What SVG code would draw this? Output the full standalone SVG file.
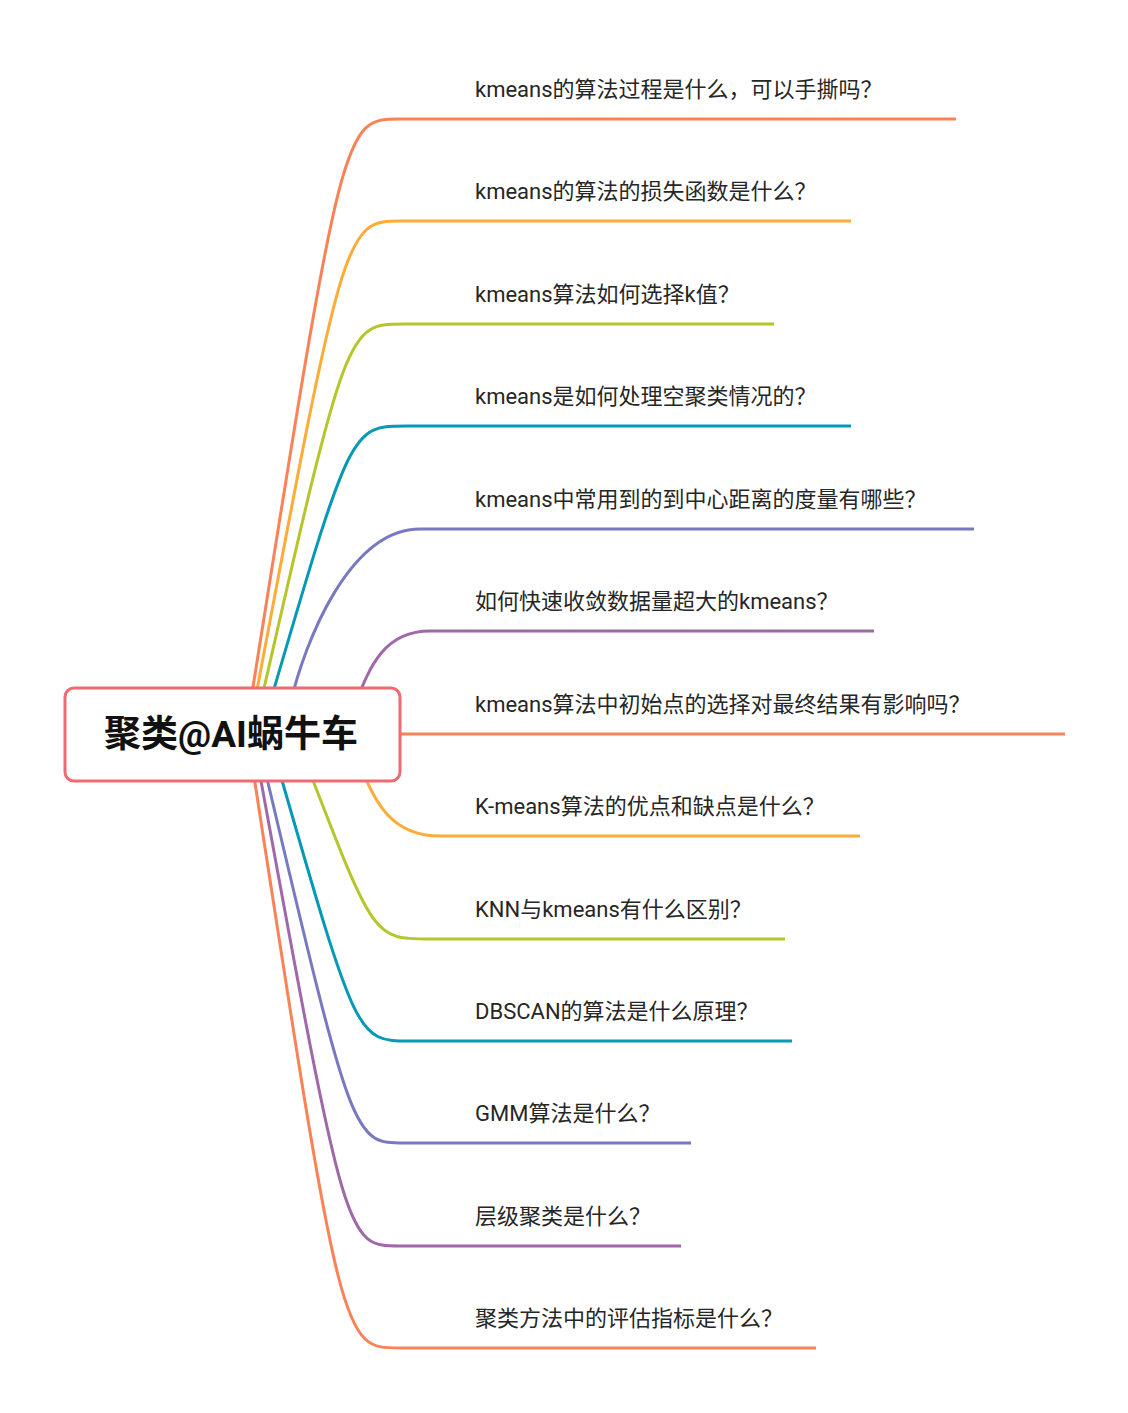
<svg xmlns="http://www.w3.org/2000/svg" width="1128" height="1413" viewBox="0 0 1128 1413">
<style>
.bg{fill:#ffffff}
.conn{fill:none;stroke-width:3;stroke-linecap:butt}
.ul{fill:none;stroke-width:3}
.t{font-family:Roboto,"Noto Sans CJK SC",sans-serif;font-size:22px;fill:#262626}
.root-box{fill:#ffffff;stroke:#EF6B71;stroke-width:3}
.root-t{font-family:Roboto,"Noto Sans CJK SC",sans-serif;font-size:37px;font-weight:bold;fill:#111111}
.c1{stroke:#FB8157}
.c2{stroke:#FDAC37}
.c3{stroke:#B5C62B}
.c4{stroke:#0599B5}
.c5{stroke:#7979C2}
.c6{stroke:#A067A9}
</style>
<rect class="bg" x="0" y="0" width="1128" height="1413"/>
<g id="connectors">
<path class="conn c1" d="M250,706 C343,119 343,119 400,119 L448,119"/>
<path class="conn c2" d="M254,706 C345,221 345,221 402,221 L448,221"/>
<path class="conn c3" d="M260,706 C347,324 347,324 404,324 L448,324"/>
<path class="conn c4" d="M269,706 C351,426 351,426 406,426 L448,426"/>
<path class="conn c5" d="M290,705 C305,640 350,529 420,529 L448,529"/>
<path class="conn c6" d="M355,705 C370,665 385,631 430,631 L448,631"/>
<path class="conn c1" d="M398,734 L448,734"/>
<path class="conn c2" d="M362,770 C375,800 390,836 440,836 L448,836"/>
<path class="conn c3" d="M309,770 C374,939 374,939 430,939 L448,939"/>
<path class="conn c4" d="M279,770 C357,1041 357,1041 410,1041 L448,1041"/>
<path class="conn c5" d="M265,770 C353,1143 353,1143 405,1143 L448,1143"/>
<path class="conn c6" d="M259,770 C346,1246 346,1246 400,1246 L448,1246"/>
<path class="conn c1" d="M253,770 C342,1348 342,1348 400,1348 L448,1348"/>
</g>
<g id="root">
<rect class="root-box" x="65" y="688" width="335" height="93" rx="9"/>
<text class="root-t" x="231" y="747" text-anchor="middle">聚类@AI蜗牛车</text>
</g>
<g id="n1"><text class="t" x="475" y="97">kmeans的算法过程是什么，可以手撕吗？</text><line class="ul c1" x1="448" y1="119" x2="956" y2="119"/></g>
<g id="n2"><text class="t" x="475" y="199">kmeans的算法的损失函数是什么？</text><line class="ul c2" x1="448" y1="221" x2="851" y2="221"/></g>
<g id="n3"><text class="t" x="475" y="302">kmeans算法如何选择k值？</text><line class="ul c3" x1="448" y1="324" x2="774" y2="324"/></g>
<g id="n4"><text class="t" x="475" y="404">kmeans是如何处理空聚类情况的？</text><line class="ul c4" x1="448" y1="426" x2="851" y2="426"/></g>
<g id="n5"><text class="t" x="475" y="507">kmeans中常用到的到中心距离的度量有哪些？</text><line class="ul c5" x1="448" y1="529" x2="974" y2="529"/></g>
<g id="n6"><text class="t" x="475" y="609">如何快速收敛数据量超大的kmeans？</text><line class="ul c6" x1="448" y1="631" x2="874" y2="631"/></g>
<g id="n7"><text class="t" x="475" y="712">kmeans算法中初始点的选择对最终结果有影响吗？</text><line class="ul c1" x1="448" y1="734" x2="1065" y2="734"/></g>
<g id="n8"><text class="t" x="475" y="814">K-means算法的优点和缺点是什么？</text><line class="ul c2" x1="448" y1="836" x2="860" y2="836"/></g>
<g id="n9"><text class="t" x="475" y="917">KNN与kmeans有什么区别？</text><line class="ul c3" x1="448" y1="939" x2="785" y2="939"/></g>
<g id="n10"><text class="t" x="475" y="1019">DBSCAN的算法是什么原理？</text><line class="ul c4" x1="448" y1="1041" x2="792" y2="1041"/></g>
<g id="n11"><text class="t" x="475" y="1121">GMM算法是什么？</text><line class="ul c5" x1="448" y1="1143" x2="691" y2="1143"/></g>
<g id="n12"><text class="t" x="475" y="1224">层级聚类是什么？</text><line class="ul c6" x1="448" y1="1246" x2="681" y2="1246"/></g>
<g id="n13"><text class="t" x="475" y="1326">聚类方法中的评估指标是什么？</text><line class="ul c1" x1="448" y1="1348" x2="816" y2="1348"/></g>
</svg>
